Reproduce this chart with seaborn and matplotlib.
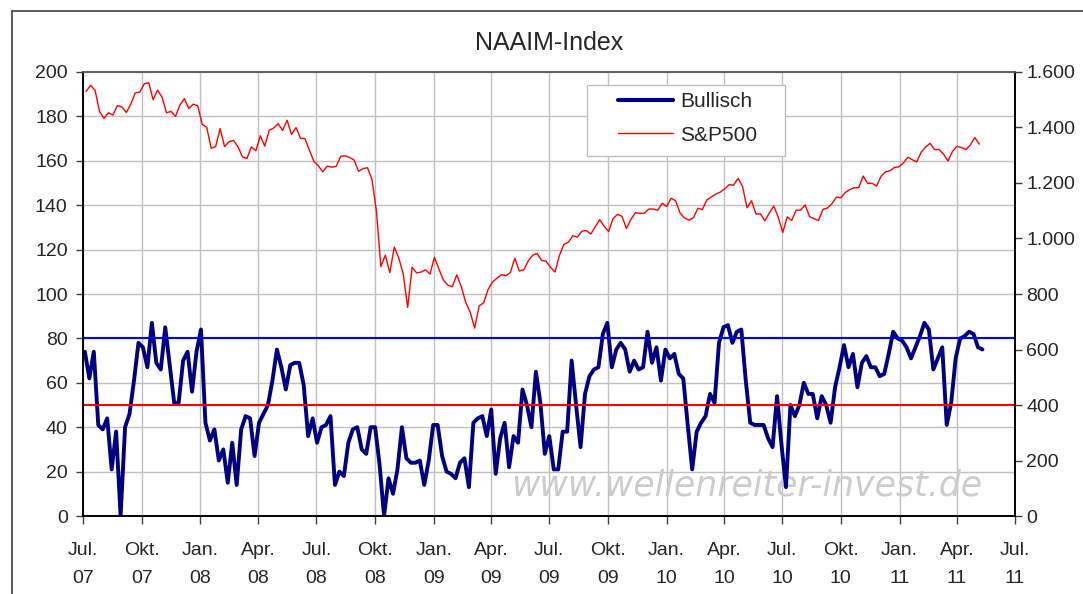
import pandas as pd
import matplotlib
matplotlib.use("Agg")
import matplotlib.pyplot as plt
from matplotlib.lines import Line2D
from matplotlib.patches import Rectangle
from matplotlib.ticker import FuncFormatter
import seaborn as sns

# NAAIM exposure index "Bullisch", weekly values (Jul 2007 - May 2011)
bullisch = [
    74, 62, 74, 41, 39, 44, 21, 38, 0, 40, 46, 61, 78, 76, 67, 87, 69, 66, 85, 68,
    51, 51, 70, 74, 56, 74, 84, 42, 34, 39, 25, 30, 15, 33, 14, 39,
    45, 44, 27, 42, 46, 50, 61, 75, 67, 57, 68, 69, 69, 59, 36, 44, 33, 40, 41, 45,
    14, 20, 18, 33, 39, 40, 30, 28, 40, 40, 23, 0, 17, 10, 21, 40,
    26, 24, 24, 25, 14, 25, 41, 41, 27, 20, 19, 17, 24, 26, 13, 42, 44, 45, 36, 48,
    19, 35, 42, 22, 36, 33, 57, 50, 40, 65, 51, 28, 36, 21, 21, 38,
    38, 70, 50, 31, 55, 63, 66, 67, 82, 87, 67, 75, 78, 75, 65, 70, 66, 67, 83, 69,
    76, 61, 75, 71, 73, 64, 62, 41, 21, 38, 42, 45, 55, 51, 78, 85,
    86, 78, 83, 84, 61, 42, 41, 41, 41, 35, 31, 54, 32, 13, 50, 45, 50, 60, 55, 55,
    44, 54, 50, 42, 58, 67, 77, 67, 73, 58, 69, 72, 67, 67, 63, 64,
    73, 83, 80, 79, 76, 71, 76, 81, 87, 84, 66, 71, 76, 41, 51, 71, 80, 81, 83, 82,
    76, 75,
]

# S&P 500, weekly closes (right axis)
sp500 = [
    # 2007
    1530, 1552, 1534, 1458, 1433, 1453, 1445, 1479, 1474, 1454, 1484, 1525, 1527,
    1557, 1562, 1500, 1535, 1509, 1453, 1458, 1440, 1481, 1504, 1468, 1484, 1478,
    # 2008
    1411, 1401, 1325, 1331, 1396, 1331, 1349, 1353, 1331, 1294, 1288, 1330, 1316,
    1370, 1333, 1390, 1398, 1414, 1389, 1426, 1375, 1400, 1361, 1360, 1318, 1278,
    1262, 1240, 1261, 1257, 1260, 1296, 1298, 1292, 1283, 1242, 1252, 1255, 1213,
    1099, 899, 940, 877, 969, 930, 873, 752, 896, 876, 879, 887, 872,
    # 2009
    932, 890, 850, 832, 826, 869, 827, 770, 735, 677, 757, 768, 816, 843, 857, 870,
    866, 877, 929, 883, 887, 919, 940, 946, 921, 918, 896, 879, 940, 979, 987, 1010,
    1005, 1026, 1029, 1016, 1042, 1068, 1044, 1025, 1072, 1087, 1080, 1036, 1069,
    1093, 1091, 1091, 1106, 1106, 1102, 1127, 1115,
    # 2010
    1145, 1136, 1092, 1074, 1066, 1075, 1109, 1104, 1139, 1150, 1160, 1167, 1179,
    1194, 1192, 1217, 1187, 1111, 1136, 1088, 1089, 1064, 1092, 1117, 1076, 1022,
    1078, 1065, 1102, 1102, 1121, 1079, 1071, 1065, 1105, 1110, 1125, 1149, 1147,
    1166, 1176, 1183, 1183, 1225, 1199, 1199, 1189, 1224, 1240, 1244, 1256, 1258,
    # 2011
    1272, 1293, 1284, 1276, 1311, 1330, 1343, 1320, 1321, 1304, 1279, 1314, 1332,
    1328, 1320, 1337, 1364, 1340,
]

upper_level = 80
lower_level = 50
month_names = {1: "Jan.", 4: "Apr.", 7: "Jul.", 10: "Okt."}

bull_dates = pd.date_range("2007-07-04", periods=len(bullisch), freq="7D")
sp_dates = pd.date_range("2007-07-06", periods=len(sp500), freq="W-FRI")
quarters = pd.date_range("2007-07-01", "2011-07-01", freq="QS")

sns.set_theme(style="white")
plt.rcParams["font.family"] = ["Liberation Sans", "DejaVu Sans"]

fig, ax = plt.subplots(figsize=(10.83, 5.94), dpi=100)
fig.subplots_adjust(left=0.0766, right=0.9372, bottom=0.1313, top=0.8788)
ax2 = ax.twinx()

# lines
sns.lineplot(x=bull_dates, y=bullisch, ax=ax, color="#000080", linewidth=2.8, zorder=3)
ax.axhline(upper_level, color="#0000ff", linewidth=1.5, zorder=4)
ax.axhline(lower_level, color="#ff0000", linewidth=1.5, zorder=4)
sns.lineplot(x=sp_dates, y=sp500, ax=ax2, color="#ff0000", linewidth=1.0)

# watermark
ax.text(0.712, 0.068, "www.wellenreiter-invest.de", transform=ax.transAxes,
        ha="center", va="center", fontsize=25, style="italic", color="#cccccc",
        family="DejaVu Sans", zorder=2)

# axes
ax.set_xlim(quarters[0], quarters[-1])
ax.set_ylim(0, 200)
ax2.set_ylim(0, 1600)
ax.set_yticks(range(0, 201, 20))
ax2.set_yticks(range(0, 1601, 200))
ax2.yaxis.set_major_formatter(FuncFormatter(lambda v, p: f"{int(v):,}".replace(",", ".")))
ax.set_xticks(quarters)
ax.set_xticklabels([f"{month_names[d.month]}\n{d.year % 100:02d}" for d in quarters])
for t in ax.get_xticklabels():
    t.set_linespacing(1.85)

ax.grid(True, color="#c0c0c0", linewidth=1.0)
ax2.grid(False)
ax.set_xlabel("")
ax.set_ylabel("")
ax2.set_ylabel("")

ax.tick_params(axis="x", bottom=True, direction="out", length=6, width=1, color="#404040",
               labelsize=14, pad=13)
ax.tick_params(axis="y", left=True, direction="out", length=5, width=1, color="#404040",
               labelsize=14, pad=6)
ax2.tick_params(axis="y", right=True, direction="out", length=5, width=1, color="#404040",
                labelsize=14, pad=3)

for a in (ax, ax2):
    for side in ("left", "right", "bottom"):
        a.spines[side].set_color("black")
        a.spines[side].set_linewidth(1.2)
    a.spines["top"].set_color("#606060")
    a.spines["top"].set_linewidth(1.2)

ax.set_title("NAAIM-Index", fontsize=18, pad=16)

# legend box (drawn separately so the padding matches the original)
ax2.add_patch(Rectangle((0.5408, 0.8108), 0.2124, 0.1599, transform=ax2.transAxes,
                        facecolor="white", edgecolor="#c0c0c0", linewidth=1.0, zorder=4.5))
handles = [Line2D([], [], color="#000080", linewidth=3),
           Line2D([], [], color="#ff0000", linewidth=1)]
ax2.legend(handles, ["Bullisch", "S&P500"], loc="upper left",
           bbox_to_anchor=(0.574, 0.955), frameon=False, fontsize=15,
           handlelength=2.65, borderpad=0, labelspacing=0.7, handletextpad=0.35,
           borderaxespad=0)

# outer chart border
fig.add_artist(Line2D([0.011, 0.011], [0, 0.981], transform=fig.transFigure,
                      color="#404040", linewidth=1.2))
fig.add_artist(Line2D([0.011, 1], [0.981, 0.981], transform=fig.transFigure,
                      color="#404040", linewidth=1.2))

plt.savefig("out.png", dpi=100)
